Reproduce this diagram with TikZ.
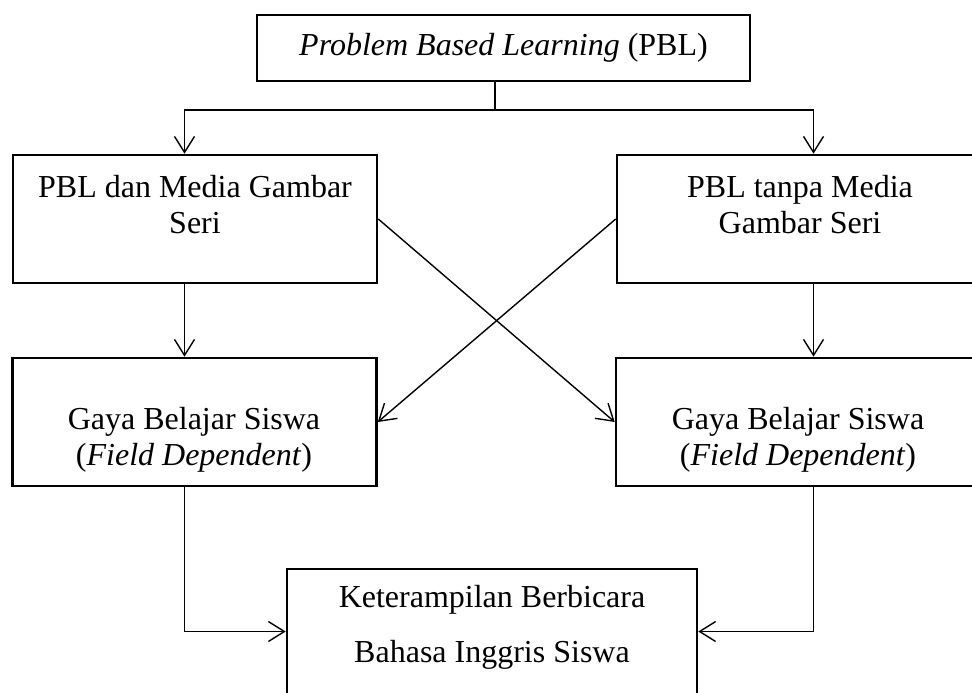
\documentclass[tikz,border=0pt]{standalone}
\usepackage{fontspec}
\setmainfont{Liberation Serif}
\usepackage{tikz}
\usetikzlibrary{arrows.meta,positioning,calc}
\tikzset{
  boxnd/.style={draw, line width=1.3pt, minimum width=182pt, minimum height=64pt, inner sep=0pt},
  txtnd/.style={font=\fontsize{16}{18}\selectfont, align=center, inner sep=0pt},
  arrln/.style={-{Straight Barb[length=8pt,width=10pt]}, line width=0.7pt},
  plainln/.style={line width=0.7pt},
}

\begin{document}
\begin{tikzpicture}[x=0.5pt, y=-0.5pt]
    \useasboundingbox (0,0) rectangle (972,692);
    \clip (0,0) rectangle (972,692);
    % boxes
    \node[boxnd, txtnd, minimum width=246.5pt, minimum height=33pt] (pbl) at (503.5,48)
      {\textit{Problem Based Learning} (PBL)};
    \node[boxnd] (dan) at (195,219) {};
    \node[txtnd] (dan-t) at (195,205) {PBL dan Media Gambar\\Seri};
    \node[boxnd] (tanpa) at (799,219) {};
    \node[txtnd] (tanpa-t) at (800,205) {PBL tanpa Media\\Gambar Seri};
    \node[boxnd] (gayaL) at (194.5,422) {};
    \node[txtnd] (gayaL-t) at (194,440) {Gaya Belajar Siswa\\(\textit{Field Dependent})};
    \node[boxnd] (gayaR) at (798,422) {};
    \node[txtnd] (gayaR-t) at (798,440) {Gaya Belajar Siswa\\(\textit{Field Dependent})};
    \node[boxnd, minimum width=205pt, minimum height=62.5pt] (ket) at (492,631.5) {};
    \node[txtnd] (ket-t) at (492,627.5) {Keterampilan Berbicara\\[9.5pt]Bahasa Inggris Siswa};
    % connectors
    \coordinate (split) at (495,110);
    \coordinate (colL) at (184.5,0);
    \coordinate (colR) at (813.5,0);
    \draw[plainln] (split |- pbl.south) -- (split);
    \draw[arrln] (split) -| (colL |- dan.north);
    \draw[arrln] (split) -| (colR |- tanpa.north);
    \draw[arrln] (colL |- dan.south) -- (colL |- gayaL.north);
    \draw[arrln] (colR |- tanpa.south) -- (colR |- gayaR.north);
    \draw[arrln] (dan.east) -- (gayaR.west);
    \draw[arrln] (tanpa.west) -- (gayaL.east);
    \draw[arrln] (colL |- gayaL.south) |- (ket.west);
    \draw[arrln] (colR |- gayaR.south) |- (ket.east);
  \end{tikzpicture}
\end{document}
